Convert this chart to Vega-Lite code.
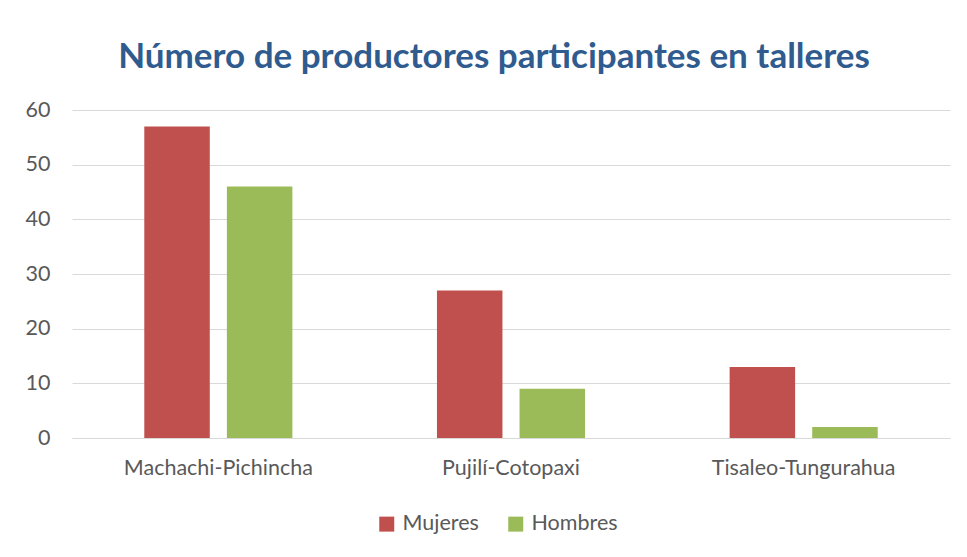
{
  "$schema": "https://vega.github.io/schema/vega-lite/v6.json",
  "width": 878,
  "height": 328,
  "autosize": "none",
  "padding": {"left": 72, "top": 110, "right": 17, "bottom": 119},
  "background": "white",
  "title": {
    "text": "Número de productores participantes en talleres",
    "font": "Lato",
    "fontSize": 35,
    "fontWeight": "bold",
    "color": "#2F5B8F",
    "anchor": "middle",
    "frame": "group",
    "dx": -17,
    "offset": 24
  },
  "data": {
    "values": [
      {"lugar": "Machachi-Pichincha", "sexo": "Mujeres", "n": 57},
      {"lugar": "Machachi-Pichincha", "sexo": "Hombres", "n": 46},
      {"lugar": "Pujilí-Cotopaxi", "sexo": "Mujeres", "n": 27},
      {"lugar": "Pujilí-Cotopaxi", "sexo": "Hombres", "n": 9},
      {"lugar": "Tisaleo-Tungurahua", "sexo": "Mujeres", "n": 13},
      {"lugar": "Tisaleo-Tungurahua", "sexo": "Hombres", "n": 2}
    ]
  },
  "mark": {"type": "bar"},
  "encoding": {
    "x": {
      "field": "lugar",
      "type": "nominal",
      "sort": ["Machachi-Pichincha", "Pujilí-Cotopaxi", "Tisaleo-Tungurahua"],
      "scale": {"paddingInner": 0.494, "paddingOuter": 0.247},
      "axis": {
        "title": null,
        "labelAngle": 0,
        "labelLimit": 0,
        "ticks": false,
        "domainColor": "#D9D9D9",
        "domainWidth": 1,
        "labelFont": "Lato",
        "labelFontSize": 21.5,
        "labelColor": "#595959",
        "labelPadding": 19
      }
    },
    "xOffset": {
      "field": "sexo",
      "type": "nominal",
      "sort": ["Mujeres", "Hombres"],
      "scale": {"paddingInner": 0.207, "paddingOuter": 0}
    },
    "y": {
      "field": "n",
      "type": "quantitative",
      "scale": {"domain": [0, 60]},
      "axis": {
        "title": null,
        "values": [0, 10, 20, 30, 40, 50, 60],
        "domain": false,
        "ticks": false,
        "gridColor": "#D9D9D9",
        "labelFont": "Lato",
        "labelFontSize": 21.5,
        "labelColor": "#595959",
        "labelPadding": 22
      }
    },
    "color": {
      "field": "sexo",
      "type": "nominal",
      "sort": ["Mujeres", "Hombres"],
      "scale": {"domain": ["Mujeres", "Hombres"], "range": ["#C0504D", "#9BBB59"]},
      "legend": {
        "title": null,
        "orient": "none",
        "direction": "horizontal",
        "legendX": 304,
        "legendY": 403,
        "symbolType": "square",
        "symbolSize": 225,
        "symbolStrokeWidth": 0,
        "labelFont": "Lato",
        "labelFontSize": 21.5,
        "labelColor": "#595959",
        "columnPadding": 26,
        "labelOffset": 5
      }
    }
  },
  "config": {
    "view": {"stroke": null}
  }
}
